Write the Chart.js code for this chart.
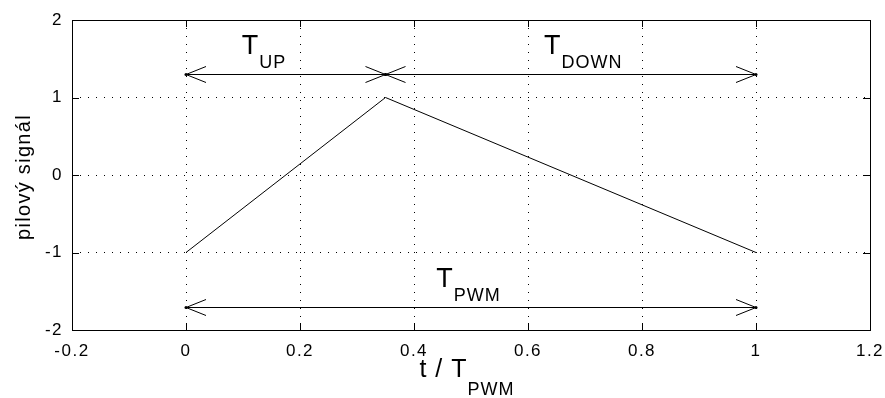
<!DOCTYPE html>
<html>
<head>
<meta charset="utf-8">
<script src="https://cdn.jsdelivr.net/npm/chart.js@4"></script>
<style>
  html, body { margin: 0; padding: 0; background: #fff; }
  #wrap { width: 885px; height: 398px; }
</style>
</head>
<body>
<div id="wrap"><canvas id="myChart"></canvas></div>
<script>
// sawtooth (pilovy signal) over one PWM period
var tValues = [0, 0.35, 1];
var signalValues = [-1, 1, -1];

var xTicks = [-0.2, 0, 0.2, 0.4, 0.6, 0.8, 1, 1.2];
var yTicks = [-2, -1, 0, 1, 2];

// double-headed arrows: start, end, level
var arrowFrom = [0, 0.35, 0];
var arrowTo = [0.35, 1, 1];
var arrowLevel = [1.3, 1.3, -1.7];

// text labels "T" with subscripts, anchored in data units
var labelSub = ['UP', 'DOWN', 'PWM'];
var labelX = [0.098, 0.628, 0.439];
var labelY = [1.56, 1.56, -1.44];

var FONT = '"Liberation Sans", Arial, sans-serif';

function drawT(ctx, x, y, sub, drop) {
    ctx.font = '27px ' + FONT;
    ctx.fillText('T', x, y);
    var w = ctx.measureText('T').width;
    ctx.font = '18px ' + FONT;
    ctx.fillText(sub, x + w, y + drop);
}

function arrowHead(ctx, x, y, dir) {
    ctx.beginPath();
    ctx.moveTo(x + dir * 20, y - 8);
    ctx.lineTo(x, y);
    ctx.lineTo(x + dir * 20, y + 8);
    ctx.stroke();
    ctx.beginPath();
    ctx.arc(x, y, 1.5, 0, Math.PI * 2);
    ctx.fill();
}

var decor = {
    id: 'decor',
    beforeDraw: function (chart) {
        var ctx = chart.ctx;
        ctx.save();
        ctx.fillStyle = '#fff';
        ctx.fillRect(0, 0, chart.width, chart.height);
        ctx.restore();
        // wider spacing for the tick labels, like the original bitmap font
        ctx.letterSpacing = '1.5px';
    },
    afterDraw: function (chart) {
        var ctx = chart.ctx, a = chart.chartArea;
        var xs = chart.scales.x, ys = chart.scales.y;
        ctx.save();
        ctx.strokeStyle = '#000';
        ctx.fillStyle = '#000';
        ctx.lineWidth = 1;
        ctx.letterSpacing = '0px';

        // box
        ctx.strokeRect(Math.round(a.left) + 0.5, Math.round(a.top) + 0.5,
            Math.round(a.right - a.left), Math.round(a.bottom - a.top));

        // inward ticks on all four sides
        ctx.beginPath();
        xTicks.forEach(function (v) {
            var px = Math.round(xs.getPixelForValue(v)) + 0.5;
            ctx.moveTo(px, a.bottom); ctx.lineTo(px, a.bottom - 7);
            ctx.moveTo(px, a.top); ctx.lineTo(px, a.top + 7);
        });
        yTicks.forEach(function (v) {
            var py = Math.round(ys.getPixelForValue(v)) + 0.5;
            ctx.moveTo(a.left, py); ctx.lineTo(a.left + 7, py);
            ctx.moveTo(a.right, py); ctx.lineTo(a.right - 7, py);
        });
        ctx.stroke();

        // arrows
        for (var i = 0; i < arrowFrom.length; i++) {
            var x1 = xs.getPixelForValue(arrowFrom[i]);
            var x2 = xs.getPixelForValue(arrowTo[i]);
            var py = Math.round(ys.getPixelForValue(arrowLevel[i])) + 0.5;
            ctx.beginPath();
            ctx.moveTo(x1, py); ctx.lineTo(x2, py);
            ctx.stroke();
            arrowHead(ctx, x1, py, 1);
            arrowHead(ctx, x2, py, -1);
        }

        // T labels
        ctx.textBaseline = 'alphabetic';
        ctx.textAlign = 'left';
        ctx.letterSpacing = '1px';
        for (var j = 0; j < labelSub.length; j++) {
            drawT(ctx, xs.getPixelForValue(labelX[j]), ys.getPixelForValue(labelY[j]), labelSub[j], 14);
        }

        // x axis title: t / T_PWM
        var cx = (a.left + a.right) / 2 - 4;
        ctx.font = '25px ' + FONT;
        var w1 = ctx.measureText('t / T').width;
        ctx.font = '18px ' + FONT;
        var w2 = ctx.measureText('PWM').width;
        var left = cx - (w1 + w2) / 2;
        ctx.font = '25px ' + FONT;
        ctx.fillText('t / T', left, 377);
        ctx.font = '18px ' + FONT;
        ctx.fillText('PWM', left + w1, 395);

        // y axis title
        ctx.translate(24, (a.top + a.bottom) / 2 + 2);
        ctx.rotate(-Math.PI / 2);
        ctx.textAlign = 'center';
        ctx.textBaseline = 'middle';
        ctx.font = '20px ' + FONT;
        ctx.letterSpacing = '1.3px';
        ctx.fillText('pilový signál', 0, 0);
        ctx.restore();
    }
};

var dottedGrid = {
    color: '#000',
    lineWidth: 1,
    drawTicks: false,
    borderDash: [1, 7]
};

new Chart(document.getElementById('myChart'), {
    type: 'line',
    data: {
        datasets: [{
            data: tValues.map(function (t, i) { return { x: t, y: signalValues[i] }; }),
            borderColor: '#000',
            borderWidth: 1,
            pointRadius: 0,
            tension: 0,
            fill: false
        }]
    },
    options: {
        responsive: true,
        maintainAspectRatio: false,
        animation: false,
        events: [],
        layout: { padding: { top: 20, right: 15, left: 0, bottom: 0 } },
        plugins: { legend: { display: false }, tooltip: { enabled: false } },
        scales: {
            x: {
                type: 'linear',
                min: -0.2,
                max: 1.2,
                afterBuildTicks: function (s) { s.ticks = xTicks.map(function (v) { return { value: v }; }); },
                afterFit: function (s) { s.height = 68; s.paddingLeft = 0; s.paddingRight = 0; },
                grid: dottedGrid,
                border: { display: false, dash: [1, 7] },
                ticks: {
                    color: '#000',
                    padding: 11,
                    maxRotation: 0,
                    font: { family: FONT, size: 17 },
                    callback: function (v) { return String(Math.round(v * 10) / 10); }
                }
            },
            y: {
                min: -2,
                max: 2,
                afterBuildTicks: function (s) { s.ticks = yTicks.map(function (v) { return { value: v }; }); },
                afterFit: function (s) { s.width = 72; s.paddingTop = 0; s.paddingBottom = 0; },
                grid: dottedGrid,
                border: { display: false, dash: [1, 7] },
                ticks: {
                    color: '#000',
                    padding: 9,
                    font: { family: FONT, size: 17 },
                    callback: function (v) { return String(v); }
                }
            }
        }
    },
    plugins: [decor]
});
</script>
</body>
</html>
